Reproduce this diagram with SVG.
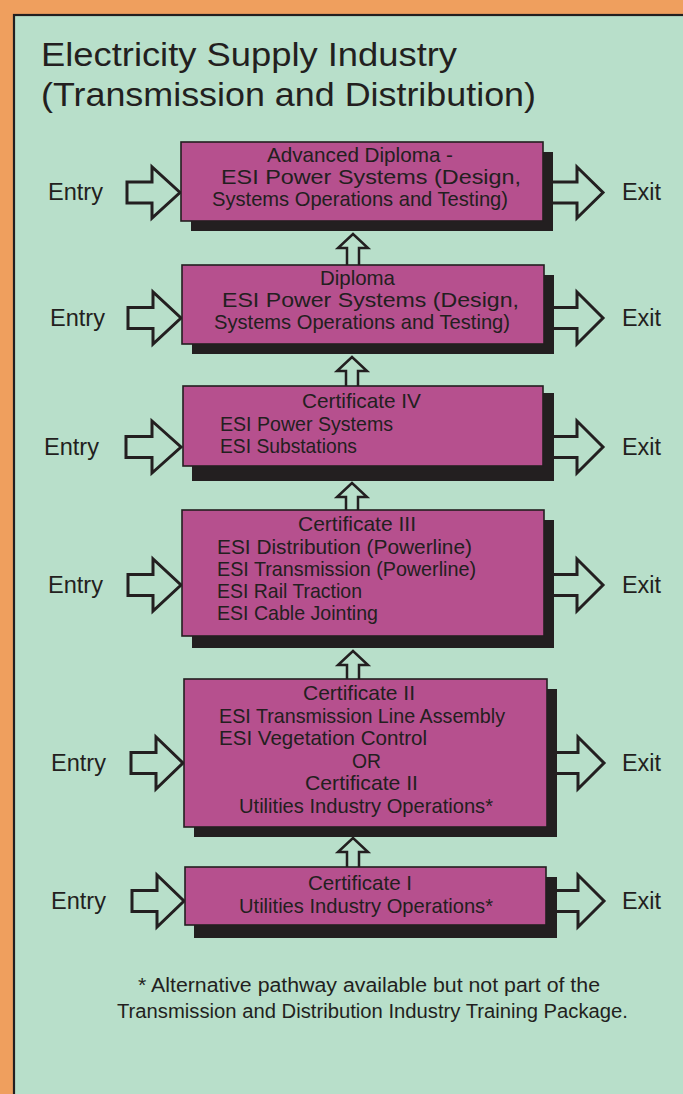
<svg xmlns="http://www.w3.org/2000/svg" width="683" height="1094" viewBox="0 0 683 1094">
<style>
.t{font-family:"Liberation Sans",Arial,sans-serif;fill:#231F20;}
.title{font-size:33px;}
.bx{font-size:21px;}
.lbl{font-size:23px;}
.fn{font-size:20px;}
.box{fill:#B6508E;stroke:#231F20;stroke-width:1.6;}
.sh{fill:#231F20;}
.arr{fill:#B8DFCA;stroke:#231F20;stroke-width:3;stroke-linejoin:miter;}
</style>
<rect x="0" y="0" width="683" height="1094" fill="#EF9F5E"/>
<rect x="14" y="15" width="720" height="1120" fill="#B8DFCA" stroke="#231F20" stroke-width="2.2"/>
<g id="title">
<text class="t title" x="41" y="66" textLength="416" lengthAdjust="spacingAndGlyphs">Electricity Supply Industry</text>
<text class="t title" x="41" y="106" textLength="495" lengthAdjust="spacingAndGlyphs">(Transmission and Distribution)</text>
</g>
<g id="connectors">
<!-- entry arrows -->
<path class="arr" d="M127,182 H152 V167 L180,192.5 L152,218 V203 H127 Z"/>
<path class="arr" d="M128,307.5 H153 V292 L181,318 L153,344 V328.5 H128 Z"/>
<path class="arr" d="M126,436.5 H152 V421 L181,447 L152,473 V457.5 H126 Z"/>
<path class="arr" d="M128,574.5 H153 V559 L181,585 L153,611 V595.5 H128 Z"/>
<path class="arr" d="M131,752.5 H156 V737 L183,763 L156,789 V773.5 H131 Z"/>
<path class="arr" d="M132,890.5 H157 V875 L184,901 L157,927 V911.5 H132 Z"/>
<!-- exit arrows -->
<path class="arr" d="M548,182 H577 V167 L603,192.5 L577,218 V203 H548 Z"/>
<path class="arr" d="M548,307.5 H577 V292 L603,318 L577,344 V328.5 H548 Z"/>
<path class="arr" d="M548,436.5 H577 V421 L603,447 L577,473 V457.5 H548 Z"/>
<path class="arr" d="M548,574.5 H577 V559 L603,585 L577,611 V595.5 H548 Z"/>
<path class="arr" d="M550,752.5 H578 V737 L604,763 L578,789 V773.5 H550 Z"/>
<path class="arr" d="M550,890.5 H578 V875 L604,901 L578,927 V911.5 H550 Z"/>
<!-- up arrows -->
<path class="arr" style="stroke-width:2.5" d="M347,268 V248 H338 L353,234 L368,248 H359 V268 Z"/>
<path class="arr" style="stroke-width:2.5" d="M346,389 V371 H337 L352,357 L367,371 H358 V389 Z"/>
<path class="arr" style="stroke-width:2.5" d="M346,513 V497 H337 L352,483 L367,497 H358 V513 Z"/>
<path class="arr" style="stroke-width:2.5" d="M347,682 V665 H338 L353,651 L368,665 H359 V682 Z"/>
<path class="arr" style="stroke-width:2.5" d="M347,870 V852 H338 L353,838 L368,852 H359 V870 Z"/>
</g>
<g id="n1">
<rect class="sh" x="191" y="152" width="362" height="79"/>
<rect class="box" x="181" y="142" width="362" height="79"/>
<text class="t bx" x="267" y="162" textLength="186" lengthAdjust="spacingAndGlyphs">Advanced Diploma -</text>
<text class="t bx" x="221" y="184" textLength="300" lengthAdjust="spacingAndGlyphs">ESI Power Systems  (Design,</text>
<text class="t bx" x="212" y="206" textLength="296" lengthAdjust="spacingAndGlyphs">Systems Operations and Testing)</text>
</g>
<g id="n2">
<rect class="sh" x="192" y="275" width="362" height="79"/>
<rect class="box" x="182" y="265" width="362" height="79"/>
<text class="t bx" x="320" y="285" textLength="75" lengthAdjust="spacingAndGlyphs">Diploma</text>
<text class="t bx" x="222" y="307" textLength="297" lengthAdjust="spacingAndGlyphs">ESI Power Systems   (Design,</text>
<text class="t bx" x="214" y="329" textLength="296" lengthAdjust="spacingAndGlyphs">Systems Operations and Testing)</text>
</g>
<g id="n3">
<rect class="sh" x="192" y="393" width="362" height="88"/>
<rect class="box" x="183" y="386" width="360" height="80"/>
<text class="t bx" x="302" y="408" textLength="119" lengthAdjust="spacingAndGlyphs">Certificate IV</text>
<text class="t bx" x="220" y="431" textLength="173" lengthAdjust="spacingAndGlyphs">ESI Power Systems</text>
<text class="t bx" x="220" y="453" textLength="137" lengthAdjust="spacingAndGlyphs">ESI Substations</text>
</g>
<g id="n4">
<rect class="sh" x="192" y="520" width="362" height="128"/>
<rect class="box" x="182" y="510" width="362" height="126"/>
<text class="t bx" x="298" y="531" textLength="118" lengthAdjust="spacingAndGlyphs">Certificate III</text>
<text class="t bx" x="217" y="554" textLength="255" lengthAdjust="spacingAndGlyphs">ESI Distribution (Powerline)</text>
<text class="t bx" x="217" y="576" textLength="259" lengthAdjust="spacingAndGlyphs">ESI Transmission (Powerline)</text>
<text class="t bx" x="217" y="598" textLength="145" lengthAdjust="spacingAndGlyphs">ESI Rail Traction</text>
<text class="t bx" x="217" y="620" textLength="161" lengthAdjust="spacingAndGlyphs">ESI Cable Jointing</text>
</g>
<g id="n5">
<rect class="sh" x="194" y="689" width="363" height="148"/>
<rect class="box" x="184" y="679" width="363" height="148"/>
<text class="t bx" x="303" y="700" textLength="112" lengthAdjust="spacingAndGlyphs">Certificate II</text>
<text class="t bx" x="219" y="723" textLength="286" lengthAdjust="spacingAndGlyphs">ESI Transmission Line Assembly</text>
<text class="t bx" x="219" y="745" textLength="208" lengthAdjust="spacingAndGlyphs">ESI Vegetation Control</text>
<text class="t bx" x="352" y="768" textLength="29" lengthAdjust="spacingAndGlyphs">OR</text>
<text class="t bx" x="305" y="790" textLength="113" lengthAdjust="spacingAndGlyphs">Certificate  II</text>
<text class="t bx" x="239" y="813" textLength="254" lengthAdjust="spacingAndGlyphs">Utilities Industry Operations*</text>
</g>
<g id="n6">
<rect class="sh" x="194" y="877" width="363" height="61"/>
<rect class="box" x="185" y="867" width="361" height="58"/>
<text class="t bx" x="308" y="890" textLength="104" lengthAdjust="spacingAndGlyphs">Certificate I</text>
<text class="t bx" x="239" y="913" textLength="254" lengthAdjust="spacingAndGlyphs">Utilities Industry Operations*</text>
</g>
<g id="labels">
<text class="t lbl" x="48" y="200" textLength="55" lengthAdjust="spacingAndGlyphs">Entry</text>
<text class="t lbl" x="50" y="326" textLength="55" lengthAdjust="spacingAndGlyphs">Entry</text>
<text class="t lbl" x="44" y="455" textLength="55" lengthAdjust="spacingAndGlyphs">Entry</text>
<text class="t lbl" x="48" y="593" textLength="55" lengthAdjust="spacingAndGlyphs">Entry</text>
<text class="t lbl" x="51" y="771" textLength="55" lengthAdjust="spacingAndGlyphs">Entry</text>
<text class="t lbl" x="51" y="909" textLength="55" lengthAdjust="spacingAndGlyphs">Entry</text>
<text class="t lbl" x="622" y="200" textLength="39" lengthAdjust="spacingAndGlyphs">Exit</text>
<text class="t lbl" x="622" y="326" textLength="39" lengthAdjust="spacingAndGlyphs">Exit</text>
<text class="t lbl" x="622" y="455" textLength="39" lengthAdjust="spacingAndGlyphs">Exit</text>
<text class="t lbl" x="622" y="593" textLength="39" lengthAdjust="spacingAndGlyphs">Exit</text>
<text class="t lbl" x="622" y="771" textLength="39" lengthAdjust="spacingAndGlyphs">Exit</text>
<text class="t lbl" x="622" y="909" textLength="39" lengthAdjust="spacingAndGlyphs">Exit</text>
</g>
<g id="footnote">
<text class="t fn" x="138" y="992" textLength="462" lengthAdjust="spacingAndGlyphs">* Alternative pathway available but not part of the</text>
<text class="t fn" x="117" y="1018" textLength="511" lengthAdjust="spacingAndGlyphs">Transmission and Distribution Industry Training Package.</text>
</g>
</svg>
